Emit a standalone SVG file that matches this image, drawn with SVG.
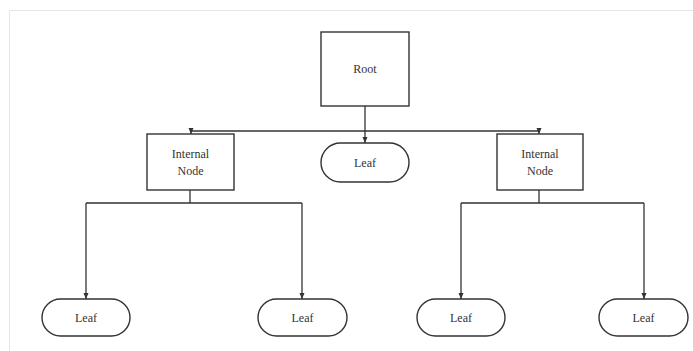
<svg xmlns="http://www.w3.org/2000/svg" width="693" height="351" viewBox="0 0 693 351">
<defs>
<style>
.box{fill:#fff;stroke:#333;stroke-width:1.4}
.lbl{font-family:"Liberation Serif",serif;font-size:12px;fill:#333;text-anchor:middle}
.con{fill:none;stroke:#333;stroke-width:1.3}
</style>
<marker id="arr" viewBox="0 0 6 6" refX="6" refY="3" markerWidth="6" markerHeight="6" markerUnits="userSpaceOnUse" orient="auto">
<path d="M0,0.5 L6,3 L0,5.5 z" fill="#333"/>
</marker>
</defs>
<rect width="693" height="351" fill="#fff"/>
<path d="M9.5,351 V10.5 H693" fill="none" stroke="#e6e6e6" stroke-width="1"/>
<g id="connectors">
<path class="con" d="M365,106 V131"/>
<path class="con" d="M191,131 H539"/>
<path class="con" d="M191,131 V134" marker-end="url(#arr)"/>
<path class="con" d="M365,131 V143" marker-end="url(#arr)"/>
<path class="con" d="M539,131 V134" marker-end="url(#arr)"/>
<path class="con" d="M190,190 V203 M86,203 H302"/>
<path class="con" d="M86,203 V299" marker-end="url(#arr)"/>
<path class="con" d="M302,203 V299" marker-end="url(#arr)"/>
<path class="con" d="M539,190 V203 M461,203 H644"/>
<path class="con" d="M461,203 V299" marker-end="url(#arr)"/>
<path class="con" d="M644,203 V299" marker-end="url(#arr)"/>
</g>
<g id="root">
<rect class="box" x="321" y="32" width="88" height="74"/>
<text class="lbl" x="365" y="73">Root</text>
</g>
<g id="internal-left">
<rect class="box" x="147" y="134" width="87" height="56"/>
<text class="lbl" x="190.5" y="158">Internal</text>
<text class="lbl" x="190.5" y="175">Node</text>
</g>
<g id="leaf-mid">
<rect class="box" x="321" y="143" width="88" height="39" rx="19.5"/>
<text class="lbl" x="365" y="167">Leaf</text>
</g>
<g id="internal-right">
<rect class="box" x="497" y="134" width="86" height="56"/>
<text class="lbl" x="540" y="158">Internal</text>
<text class="lbl" x="540" y="175">Node</text>
</g>
<g id="leaf-1">
<rect class="box" x="42" y="299" width="88" height="37" rx="18.5"/>
<text class="lbl" x="86" y="322">Leaf</text>
</g>
<g id="leaf-2">
<rect class="box" x="258" y="299" width="89" height="37" rx="18.5"/>
<text class="lbl" x="302.5" y="322">Leaf</text>
</g>
<g id="leaf-3">
<rect class="box" x="417" y="299" width="88" height="37" rx="18.5"/>
<text class="lbl" x="461" y="322">Leaf</text>
</g>
<g id="leaf-4">
<rect class="box" x="599" y="299" width="89" height="37" rx="18.5"/>
<text class="lbl" x="643.5" y="322">Leaf</text>
</g>
</svg>
